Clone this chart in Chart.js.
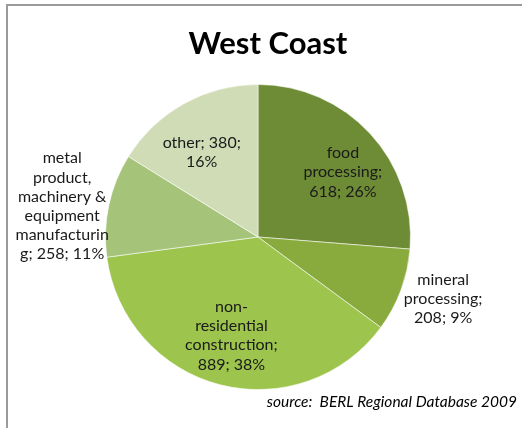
<!DOCTYPE html>
<html>
<head>
<meta charset="utf-8">
<script src="https://cdn.jsdelivr.net/npm/chart.js@4/dist/chart.umd.min.js"></script>
<style>
  html, body { margin: 0; padding: 0; background: #fff; }
  #pie { display: block; }
</style>
</head>
<body>
<canvas id="pie" width="522" height="428"></canvas>
<script>
/* ---------- data ---------- */
const sectors = ['food processing', 'mineral processing', 'non-residential construction',
                 'metal product, machinery & equipment manufacturing', 'other'];
const jobs    = [618, 208, 889, 258, 380];
const colours = ['#6e8b35', '#89ab3e', '#9dc44c', '#a6c37a', '#d0dcb6'];

/* ---------- label layout ---------- */
// [turn from slice middle (deg), distance as share of radius], box width px
const labelAt = [[5.4, 0.70], [-2.0, 1.28], [0.7, 0.67], [-3.2, 1.30], [-4.5, 0.667]];
const wrapAt  = [92, 84, 96, 99, 90];

const FONT = 'Lato, "Liberation Sans", sans-serif';
const total = jobs.reduce((a, b) => a + b, 0);

/* ---------- helpers ---------- */
function shade(hex, amt) {
  const n = parseInt(hex.slice(1), 16);
  const f = c => Math.max(0, Math.min(255, Math.round(c + amt)));
  return `rgb(${f(n >> 16)},${f((n >> 8) & 255)},${f(n & 255)})`;
}

// wrap like a spreadsheet label: break on spaces / hyphens, chop long words
function wrap(ctx, text, maxW) {
  const words = text.match(/[^\s-]+-?/g);
  const lines = [];
  let cur = '';
  words.forEach(w => {
    const sep = cur && !cur.endsWith('-') ? ' ' : '';
    if (!cur || ctx.measureText(cur + sep + w).width <= maxW) {
      cur += sep + w;
    } else {
      lines.push(cur);
      cur = w;
    }
    while (ctx.measureText(cur).width > maxW) {
      let i = cur.length;
      while (i > 1 && ctx.measureText(cur.slice(0, i)).width > maxW) i--;
      lines.push(cur.slice(0, i));
      cur = cur.slice(i);
    }
  });
  if (cur) lines.push(cur);
  return lines;
}

/* ---------- plugins ---------- */
const frame = {
  id: 'frame',
  beforeDraw(chart) {
    const c = chart.ctx;
    c.save();
    c.fillStyle = '#9a9a9a';
    c.fillRect(6, 4, 2, chart.height - 4);
    c.fillRect(6, 4, chart.width - 6, 2);
    c.restore();
  }
};

const sliceLabels = {
  id: 'sliceLabels',
  afterDatasetsDraw(chart) {
    const c = chart.ctx;
    const meta = chart.getDatasetMeta(0);
    c.save();
    c.font = '16px ' + FONT;
    c.fillStyle = '#1a1a1a';
    c.textAlign = 'center';
    c.textBaseline = 'middle';
    meta.data.forEach((arc, i) => {
      const { x, y, startAngle, endAngle, outerRadius } = arc.getProps(
        ['x', 'y', 'startAngle', 'endAngle', 'outerRadius'], true);
      const [turn, dist] = labelAt[i];
      const a = (startAngle + endAngle) / 2 + turn * Math.PI / 180;
      const r = outerRadius * dist;
      const pct = Math.round(jobs[i] / total * 100);
      const lines = wrap(c, `${sectors[i]}; ${jobs[i]}; ${pct}%`, wrapAt[i]);
      const lh = 19.2;
      const cx = x + Math.cos(a) * r;
      const cy = y + Math.sin(a) * r - (lines.length - 1) * lh / 2;
      lines.forEach((l, k) => c.fillText(l, cx, cy + k * lh));
    });

    // title and source line
    c.font = 'bold 31px ' + FONT;
    c.fillStyle = '#000';
    c.textBaseline = 'alphabetic';
    c.fillText('West Coast', 268, 54);
    c.font = 'italic 15.5px ' + FONT;
    c.textAlign = 'right';
    c.fillText('source:  BERL Regional Database 2009', 517, 407);
    c.restore();
  }
};

/* ---------- chart ---------- */
new Chart(document.getElementById('pie'), {
  type: 'pie',
  data: {
    labels: sectors,
    datasets: [{
      data: jobs,
      backgroundColor(ctx) {
        const arc = ctx.element;
        const base = colours[ctx.dataIndex];
        if (!arc || !arc.outerRadius) return base;
        const g = ctx.chart.ctx.createRadialGradient(arc.x, arc.y, 0, arc.x, arc.y, arc.outerRadius);
        g.addColorStop(0, shade(base, -6));
        g.addColorStop(0.85, shade(base, 8));
        g.addColorStop(0.96, base);
        g.addColorStop(1, shade(base, -40));
        return g;
      },
      borderColor: 'rgba(255,255,255,0.55)',
      borderWidth: 1
    }]
  },
  options: {
    responsive: false,
    animation: false,
    devicePixelRatio: 1,
    layout: { padding: { left: 105, right: 111, top: 84, bottom: 38 } },
    plugins: {
      legend: { display: false },
      tooltip: { enabled: false },
      title: { display: false }
    }
  },
  plugins: [frame, sliceLabels]
});
</script>
</body>
</html>
